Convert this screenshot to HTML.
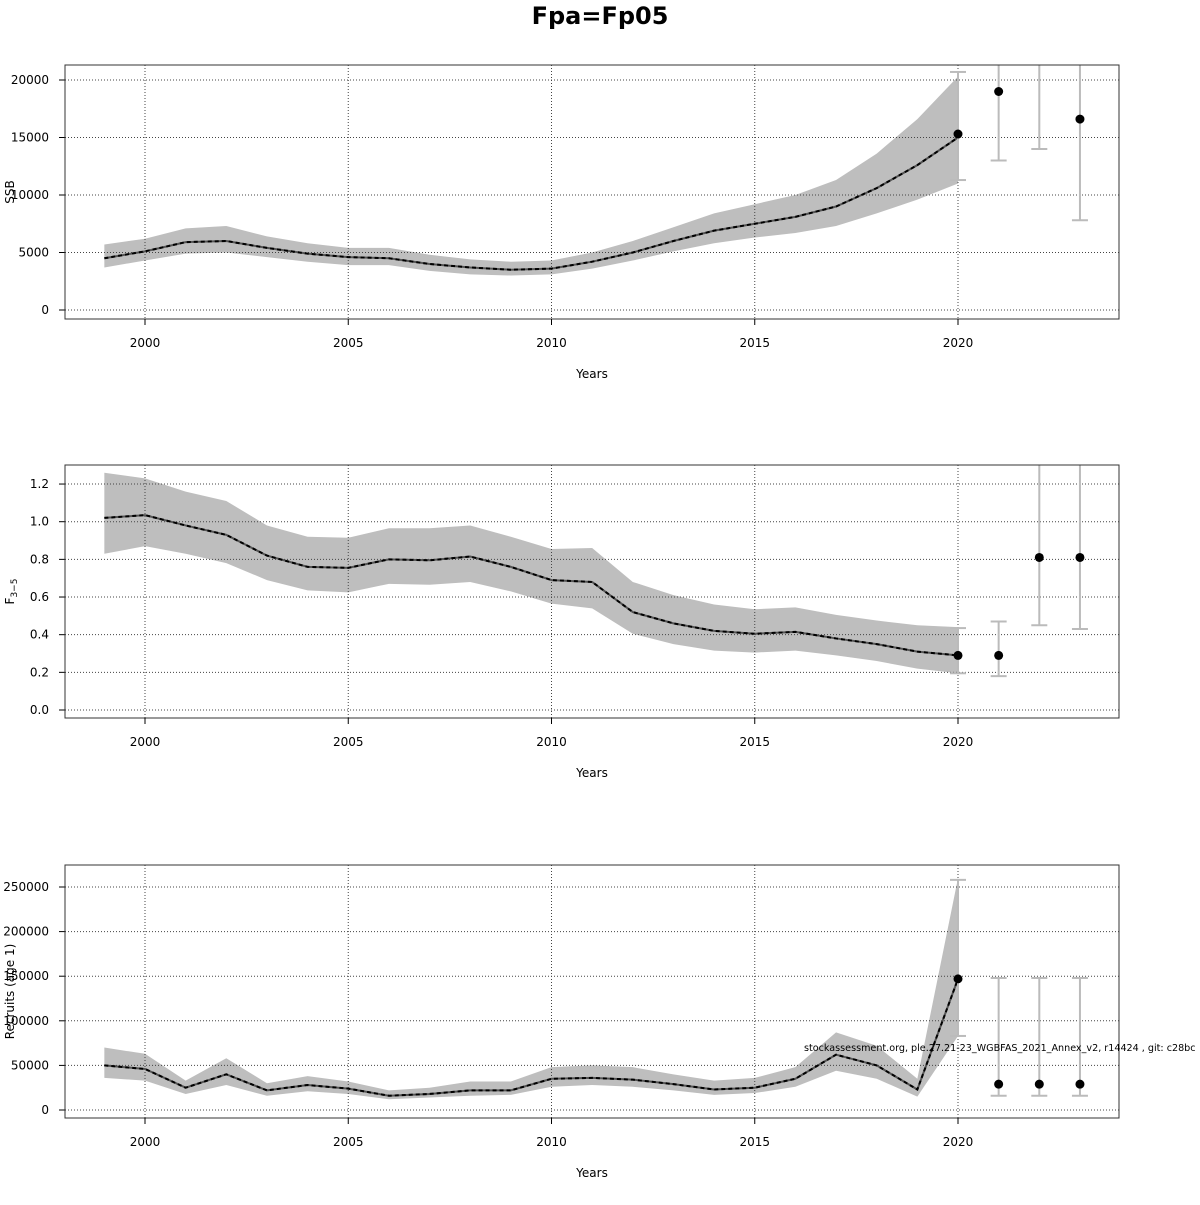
<!DOCTYPE html>
<html><head><meta charset="utf-8"><style>
body{margin:0;background:#fff;}
svg text{font-family:"DejaVu Sans","Liberation Sans",sans-serif;}
</style></head><body>
<svg id="s" width="1200" height="1200" xmlns="http://www.w3.org/2000/svg"></svg>
<script>
const S=document.getElementById('s');let h='';
h+='<rect width="1200" height="1200" fill="#fff"/>';
h+='<text x="600" y="24" font-size="24" font-weight="bold" text-anchor="middle">Fpa=Fp05</text>';
const X=y=>145+(y-2000)*40.65;
function panel(top,bot,yv,ys,ticks,labels,ylab,data,pts,maxErr){
  const Y=v=>yv(v);
  let p=data.map((d,i)=>X(1999+i)+','+Y(d[2])).join(' ')+' '+data.slice().reverse().map((d,i)=>X(1999+data.length-1-i)+','+Y(d[1])).join(' ');
  h+=`<polygon points="${p}" fill="#bebebe"/>`;
  for(let y=2000;y<=2020;y+=5)h+=`<line x1="${X(y)}" y1="${top}" x2="${X(y)}" y2="${bot}" stroke="#444" stroke-dasharray="1,2" stroke-width="1"/>`;
  ticks.forEach((t,i)=>{h+=`<line x1="65" y1="${Y(t)}" x2="1119" y2="${Y(t)}" stroke="#444" stroke-dasharray="1,2" stroke-width="1"/>`;
    h+=`<line x1="59" y1="${Y(t)}" x2="65" y2="${Y(t)}" stroke="#000"/>`;
    h+=`<text x="49" y="${Y(t)+4}" font-size="12" text-anchor="end">${labels[i]}</text>`;});
  let l=data.map((d,i)=>X(1999+i)+','+Y(d[0])).join(' ');
  h+=`<polyline points="${l}" fill="none" stroke="#555" stroke-width="2"/>`;
  h+=`<polyline points="${l}" fill="none" stroke="#000" stroke-width="2" stroke-dasharray="4,3"/>`;
  pts.forEach(q=>{const x=X(q[0]);const hi=Math.max(Y(q[3]),top);
    h+=`<line x1="${x}" y1="${Y(q[2])}" x2="${x}" y2="${hi}" stroke="#bbb" stroke-width="2"/>`;
    h+=`<line x1="${x-8}" y1="${Y(q[2])}" x2="${x+8}" y2="${Y(q[2])}" stroke="#bbb" stroke-width="2"/>`;
    if(Y(q[3])>top)h+=`<line x1="${x-8}" y1="${Y(q[3])}" x2="${x+8}" y2="${Y(q[3])}" stroke="#bbb" stroke-width="2"/>`;
    if(q[1]!==null&&Y(q[1])>top)h+=`<circle cx="${x}" cy="${Y(q[1])}" r="4.5" fill="#000"/>`;});
  h+=`<rect x="65" y="${top}" width="1054" height="${bot-top}" fill="none" stroke="#333" stroke-width="1"/>`;
  for(let y=2000;y<=2020;y+=5){h+=`<line x1="${X(y)}" y1="${bot}" x2="${X(y)}" y2="${bot+6}" stroke="#000"/>`;
    h+=`<text x="${X(y)}" y="${bot+28}" font-size="12" text-anchor="middle">${y}</text>`;}
  h+=`<text x="592" y="${bot+59}" font-size="12" text-anchor="middle">Years</text>`;
  h+=`<text transform="translate(14,${(top+bot)/2}) rotate(-90)" font-size="12" text-anchor="middle">${ylab}</text>`;
}
const ssb=[[4500,3700,5700],[5100,4300,6200],[5900,4900,7100],[6000,5000,7300],[5400,4600,6400],[4900,4200,5800],[4600,3900,5400],[4500,3900,5400],[4000,3400,4800],[3700,3100,4400],[3500,3000,4200],[3600,3100,4300],[4200,3600,5000],[5000,4300,6000],[6000,5100,7200],[6900,5800,8400],[7500,6300,9200],[8100,6700,10000],[9000,7300,11300],[10600,8400,13600],[12600,9600,16600],[15000,11000,20300]];
panel(65,319,v=>310-v*0.0115,0,[0,5000,10000,15000,20000],['0','5000','10000','15000','20000'],'SSB',ssb,
 [[2020,15300,11300,20700],[2021,19000,13000,30000],[2022,null,14000,30000],[2023,16600,7800,30000]]);
const F=[[1.02,.83,1.26],[1.035,.87,1.23],[.98,.83,1.16],[.93,.78,1.11],[.82,.69,.98],[.76,.635,.92],[.755,.625,.915],[.80,.67,.965],[.795,.665,.965],[.815,.68,.98],[.76,.63,.92],[.69,.565,.855],[.68,.54,.86],[.52,.405,.68],[.46,.35,.61],[.42,.315,.56],[.405,.305,.535],[.415,.315,.545],[.38,.29,.505],[.35,.26,.475],[.31,.22,.45],[.29,.195,.44]];
panel(465,718,v=>710-v*188.3,0,[0,.2,.4,.6,.8,1,1.2],['0.0','0.2','0.4','0.6','0.8','1.0','1.2'],'F<tspan font-size="9" dy="3">3−5</tspan>',F,
 [[2020,.29,.195,.435],[2021,.29,.18,.47],[2022,.81,.45,2],[2023,.81,.43,2]]);
const R=[[50000,36000,70000],[46000,33000,63000],[25000,18000,33000],[40000,28000,58000],[22000,16000,30000],[28000,21000,38000],[24000,18000,32000],[16000,12000,22000],[18000,14000,25000],[22000,16000,32000],[22000,17000,32000],[35000,26000,48000],[36000,28000,50000],[34000,26000,48000],[29000,22000,40000],[23000,17000,33000],[25000,19000,36000],[35000,26000,48000],[62000,44000,87000],[50000,35000,72000],[23000,15000,35000],[147000,83000,260000]];
panel(865,1118,v=>1110-v*0.000892,0,[0,50000,100000,150000,200000,250000],['0','50000','100000','150000','200000','250000'],'Recruits (age 1)',R,
 [[2020,147000,83000,258000],[2021,29000,16000,148000],[2022,29000,16000,148000],[2023,29000,16000,148000]]);
h+='<text x="804" y="1051" font-size="9.6">stockassessment.org, ple.27.21-23_WGBFAS_2021_Annex_v2, r14424 , git: c28bc</text>';
S.innerHTML=h;
</script>
</body></html>
